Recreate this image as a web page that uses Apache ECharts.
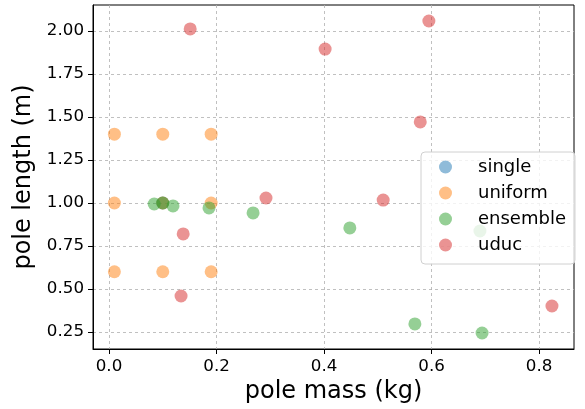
<!DOCTYPE html>
<html>
<head>
<meta charset="utf-8">
<script src="https://cdn.jsdelivr.net/npm/echarts@6/dist/echarts.min.js"></script>
<style>html,body{margin:0;padding:0;background:#fff;}#c{width:585px;height:409px;}</style>
</head>
<body>
<div id="c"></div>
<script>
// data
const singleX = [0.10];
const singleY = [1.00];
const uniformX = [0.01, 0.10, 0.19, 0.01, 0.10, 0.19, 0.01, 0.10, 0.19];
const uniformY = [1.40, 1.40, 1.40, 1.00, 1.00, 1.00, 0.60, 0.60, 0.60];
const ensembleX = [0.084, 0.10, 0.119, 0.186, 0.268, 0.448, 0.569, 0.694, 0.69];
const ensembleY = [0.994, 1.00, 0.983, 0.971, 0.942, 0.855, 0.297, 0.244, 0.837];
const uducX = [0.151, 0.402, 0.595, 0.579, 0.292, 0.510, 0.138, 0.134, 0.824];
const uducY = [2.012, 1.895, 2.058, 1.471, 1.029, 1.017, 0.820, 0.459, 0.401];
const xTicks = [0.0, 0.2, 0.4, 0.6, 0.8];
const yTicks = [0.25, 0.50, 0.75, 1.00, 1.25, 1.50, 1.75, 2.00];

const zip = (xs, ys) => xs.map((x, i) => [x, ys[i]]);
const FONT = 'DejaVu Sans';
const gridLine = { color: '#b0b0b0', type: [3, 3], width: 0.8 };

const chart = echarts.init(document.getElementById('c'));
const mk = (name, xs, ys, color) => ({
  name, type: 'scatter', data: zip(xs, ys), symbolSize: 13,
  itemStyle: { color: color, opacity: 0.5 }
});
chart.setOption({
  animation: false,
  textStyle: { fontFamily: FONT },
  grid: { left: 93, right: 11, top: 5, bottom: 60, show: true, borderColor: '#000', borderWidth: 1, backgroundColor: 'transparent' },
  legend: {
    left: 421, top: 152, orient: 'vertical',
    icon: 'circle', itemWidth: 13, itemHeight: 13, itemGap: 8,
    padding: [6, 9, 10, 18],
    backgroundColor: 'rgba(255,255,255,0.8)', borderColor: '#d0d0d0', borderWidth: 1, borderRadius: 4,
    textStyle: { fontFamily: FONT, fontSize: 18, color: '#000', lineHeight: 18, padding: [0, 0, 0, 21] },
    data: ['single', 'uniform', 'ensemble', 'uduc']
  },
  xAxis: {
    type: 'value', min: -0.0298, max: 0.865,
    name: 'pole mass (kg)', nameLocation: 'middle', nameGap: 31,
    nameTextStyle: { fontFamily: FONT, fontSize: 24, color: '#000' },
    axisLine: { show: true, onZero: false, lineStyle: { color: '#000' } },
    axisTick: { show: true, length: 5, lineStyle: { color: '#000' }, customValues: xTicks },
    axisLabel: { fontFamily: FONT, fontSize: 16.7, color: '#000', margin: 9, customValues: xTicks, formatter: v => v.toFixed(1) },
    splitLine: { show: true, lineStyle: gridLine }
  },
  yAxis: {
    type: 'value', min: 0.151, max: 2.151,
    name: 'pole length (m)', nameLocation: 'middle', nameGap: 48,
    nameTextStyle: { fontFamily: FONT, fontSize: 24, color: '#000' },
    axisLine: { show: true, onZero: false, lineStyle: { color: '#000' } },
    axisTick: { show: true, length: 5, lineStyle: { color: '#000' }, customValues: yTicks },
    axisLabel: { fontFamily: FONT, fontSize: 16.7, color: '#000', margin: 9, customValues: yTicks, formatter: v => v.toFixed(2) },
    splitLine: { show: true, lineStyle: gridLine }
  },
  series: [
    mk('single', singleX, singleY, '#1f77b4'),
    mk('uniform', uniformX, uniformY, '#ff7f0e'),
    mk('ensemble', ensembleX, ensembleY, '#2ca02c'),
    mk('uduc', uducX, uducY, '#d62728')
  ]
});
</script>
</body>
</html>
